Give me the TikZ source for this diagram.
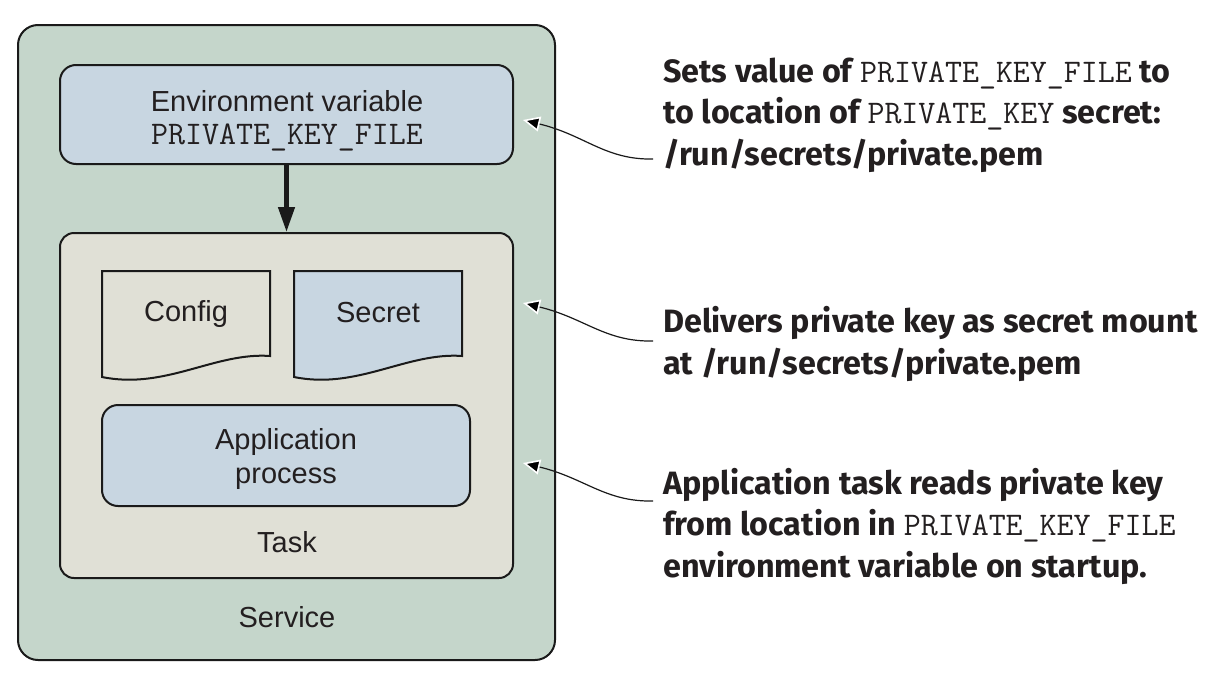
\documentclass[tikz,border=0pt]{standalone}
\usepackage{fontspec}
\setmainfont{Liberation Sans}
\newfontfamily\callf{Fira Sans}
\usetikzlibrary{arrows.meta,calc}
\definecolor{svcfill}{HTML}{C5D6CB}
\definecolor{bluefill}{HTML}{C8D6E1}
\definecolor{taskfill}{HTML}{E0E0D6}
\definecolor{linec}{HTML}{1A1A1A}
\definecolor{textc}{HTML}{231F20}
\newcommand{\cm}[1]{{\ttfamily\mdseries\fontsize{33}{41.5}\selectfont #1}}
\tikzset{
  box/.style={draw=linec, line width=2pt, inner sep=0pt},
  lbl/.style={text=textc, font=\fontsize{29}{34}\selectfont, align=center, inner sep=0pt},
  calltext/.style={text=textc, font=\callf\bfseries\fontsize{32.3}{41.5}\selectfont, align=left, inner sep=0pt, anchor=west},
  callout/.style={draw=linec, line width=1.2pt, -{Triangle[length=17pt,width=15pt,color=white,fill=black,line width=1.6pt]}},
  doc/.style={draw=linec, line width=2pt},
  bigarrow/.style={draw=linec, line width=4.5pt, -{Triangle[length=25pt,width=16pt]}}
}
\begin{document}
\begin{tikzpicture}[x=1pt,y=-1pt]
\useasboundingbox[fill=white] (0,0) rectangle (1218,683);
% Service
\node[box, fill=svcfill, rounded corners=20pt, minimum width=537pt, minimum height=635pt] (svc) at (286.5,342.5) {};
% Env var
\node[box, fill=bluefill, rounded corners=16pt, minimum width=453pt, minimum height=99pt] (env) at (286.5,114.5) {};
\node[lbl] (envt) at (287,121) {Environment variable\\[-0.5pt]{\ttfamily\fontsize{33}{34}\selectfont PRIVATE\_KEY\_FILE}};
% Task
\node[box, fill=taskfill, rounded corners=14pt, minimum width=453pt, minimum height=345pt] (task) at (286.5,405.5) {};
\draw[bigarrow] (env.south) -- (task.north);
% Config doc
\draw[doc, fill=taskfill] (102,271) -- (270,271) -- (270,356) .. controls (215,352) and (165,390) .. (102,377) -- cycle;
\node[lbl] (cfg) at (186,314) {Config};
% Secret doc
\draw[doc, fill=bluefill] (294,271) -- (462,271) -- (462,356) .. controls (407,352) and (357,390) .. (294,377) -- cycle;
\node[lbl] (sec) at (378,313) {Secret};
% App process
\node[box, fill=bluefill, rounded corners=16pt, minimum width=368pt, minimum height=101pt] (app) at (286,455.5) {};
\node[lbl] (appt) at (286,459) {Application\\process};
\node[lbl] (taskt) at (287,542) {Task};
\node[lbl] (svct) at (287,617) {Service};
% Callouts
\node[calltext] (n1) at (663,115) {Sets value of \cm{PRIVATE\_KEY\_FILE} to\\to location of \cm{PRIVATE\_KEY} secret:\\/run/secrets/private.pem};
\node[calltext] (n2) at (663,344) {Delivers private key as secret mount\\at /run/secrets/private.pem};
\node[calltext] (n3) at (663,526) {Application task reads private key\\from location in \cm{PRIVATE\_KEY\_FILE}\\environment variable on startup.};
\coordinate (t1) at (523,120);
\coordinate (e1) at (653,159);
\coordinate (t2) at (523,303);
\coordinate (e2) at (653,341);
\coordinate (t3) at (523,463);
\coordinate (e3) at (653,501);
\draw[callout] (e1) .. controls (605,160) and (585,135) .. (t1);
\draw[callout] (e2) .. controls (605,342) and (585,318) .. (t2);
\draw[callout] (e3) .. controls (605,502) and (585,478) .. (t3);
\end{tikzpicture}
\end{document}
